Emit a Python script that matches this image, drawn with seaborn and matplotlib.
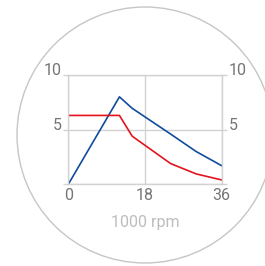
import pandas as pd
import matplotlib
matplotlib.use("Agg")
import matplotlib.pyplot as plt
from matplotlib.patches import Ellipse
import seaborn as sns

# Curvas (eje x en 1000 rpm)
rpm_azul = [0, 12, 15, 24, 30, 36]
valor_azul = [0, 8.0, 6.95, 4.6, 3.0, 1.7]
rpm_rojo = [0, 12, 15, 24, 30, 36]
valor_rojo = [6.3, 6.3, 4.4, 1.9, 0.95, 0.4]
xticks = [0, 18, 36]
yticks = [0, 5, 10]
ytick_labels = ["", "5", "10"]

datos = pd.concat([
    pd.DataFrame({"rpm": rpm_azul, "valor": valor_azul, "serie": "azul"}),
    pd.DataFrame({"rpm": rpm_rojo, "valor": valor_rojo, "serie": "rojo"}),
])

sns.set_style("white")
plt.rcParams["font.family"] = ["Roboto", "DejaVu Sans"]

gris = "#d2d2d2"
texto = "#757575"

fig = plt.figure(figsize=(2.65, 2.66), dpi=100)
fig.patches.append(Ellipse((145 / 265, 131 / 266), 256 / 265, 256 / 266,
                           transform=fig.transFigure, fill=False,
                           edgecolor="#c6c6c6", linewidth=1.0))

ax = fig.add_axes([68.3 / 265, 81.7 / 266, 153.4 / 265, 109.3 / 266])
sns.lineplot(data=datos, x="rpm", y="valor", hue="serie",
             palette={"azul": "#0f4c9c", "rojo": "#e3131e"},
             linewidth=1.2, legend=False, ax=ax)

ax.set_xlim(0, 36)
ax.set_ylim(0, 10)
ax.set_xticks(xticks)
ax.set_yticks(yticks, ytick_labels)
ax.set_xlabel("1000 rpm", color="#bdbdbd", fontsize=11.5, labelpad=8)
ax.set_ylabel("")
ax.grid(True, color=gris, linewidth=1)
for s in ax.spines.values():
    s.set_color(gris)
    s.set_linewidth(1)

ax.tick_params(axis="x", length=0, pad=3, labelsize=11.5, labelcolor=texto)
ax.tick_params(axis="y", length=3.5, width=1, color=gris, pad=1.5,
               labelsize=11.5, labelcolor=texto, left=True, right=True,
               labelleft=True, labelright=True)
for t in ax.yaxis.get_major_ticks():
    t.label1.set_verticalalignment("baseline")
    t.label2.set_verticalalignment("baseline")

fig.savefig("out.png", dpi=100)
